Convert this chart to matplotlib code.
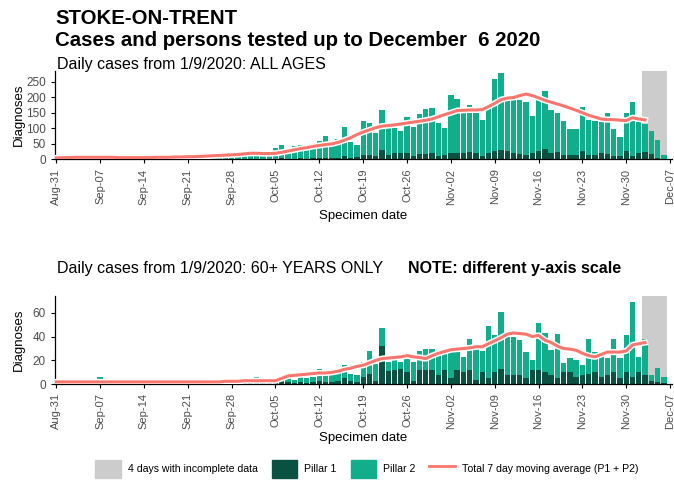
import numpy as np
import matplotlib
matplotlib.use('Agg')
import matplotlib.pyplot as plt
import matplotlib.dates as mdates
import matplotlib.patheffects as pe
from matplotlib.patches import Patch
from matplotlib.lines import Line2D

plt.rcParams['font.family'] = ['Liberation Sans', 'DejaVu Sans']

# one bar per specimen day, 31 Aug .. 6 Dec 2020
days = np.arange('2020-08-31', '2020-12-07', dtype='datetime64[D]')

all_total = [3, 14, 12, 5, 6, 8, 5, 6, 7, 8,
             5, 6, 7, 5, 6, 4, 7, 8, 6, 9,
             8, 7, 10, 12, 11, 13, 14, 12, 16, 18,
             20, 22, 18, 16, 15, 37, 45, 25, 42, 48,
             30, 35, 58, 75, 42, 65, 105, 57, 45, 123,
             116, 84, 158, 100, 100, 91, 137, 105, 147, 162,
             164, 116, 102, 207, 194, 148, 174, 148, 127, 164,
             258, 276, 190, 190, 190, 185, 140, 205, 220, 160,
             150, 125, 97, 97, 167, 128, 124, 121, 150, 98,
             73, 150, 185, 121, 113, 92, 62, 14]
all_p1 = [0, 1, 1, 0, 0, 1, 0, 0, 1, 0,
          0, 0, 1, 0, 0, 0, 1, 0, 0, 1,
          0, 1, 1, 0, 1, 1, 1, 0, 1, 2,
          2, 2, 1, 2, 1, 3, 4, 2, 3, 4,
          3, 4, 5, 6, 5, 6, 12, 5, 8, 14,
          16, 12, 32, 14, 20, 20, 20, 10, 18, 18,
          20, 10, 16, 20, 20, 22, 25, 20, 12, 20,
          28, 30, 27, 20, 17, 16, 20, 26, 33, 22,
          24, 16, 14, 16, 28, 16, 16, 20, 18, 12,
          10, 27, 12, 22, 24, 18, 5, 2]
all_ma = [5, 6, 6, 7, 7, 7, 7, 7, 7, 7,
          6, 6, 6, 6, 6, 6, 7, 7, 7, 8,
          8, 9, 9, 10, 11, 12, 13, 14, 15, 16,
          18, 20, 20, 19, 19, 20, 23, 27, 31, 35,
          38, 42, 45, 48, 50, 55, 62, 70, 80, 88,
          95, 102, 107, 109, 111, 114, 117, 120, 123, 126,
          130, 137, 144, 150, 157, 158, 159, 159, 160, 170,
          180, 192, 197, 199, 205, 210, 205, 198, 190, 184,
          178, 172, 165, 158, 150, 142, 136, 130, 128, 128,
          126, 125, 134, 130, 127]

old_total = [1, 1, 2, 0, 1, 1, 2, 6, 1, 1,
             2, 1, 1, 2, 1, 0, 2, 1, 1, 2,
             1, 2, 1, 2, 1, 2, 2, 1, 3, 2,
             3, 2, 6, 2, 3, 3, 7, 9, 4, 8,
             5, 6, 13, 12, 12, 13, 16, 9, 8, 19,
             28, 17, 47, 19, 20, 19, 22, 19, 28, 30,
             30, 27, 26, 30, 30, 23, 38, 34, 28, 49,
             41, 61, 40, 40, 37, 27, 20, 51, 43, 29,
             42, 18, 22, 20, 16, 38, 27, 27, 22, 38,
             22, 41, 69, 23, 38, 8, 14, 6]
old_p1 = [0, 0, 1, 0, 0, 0, 1, 1, 0, 0,
          1, 0, 0, 1, 0, 0, 1, 0, 0, 1,
          0, 1, 0, 1, 0, 1, 1, 0, 1, 1,
          1, 1, 1, 1, 1, 1, 2, 2, 1, 2,
          1, 2, 3, 2, 2, 3, 5, 3, 2, 6,
          9, 3, 32, 11, 12, 13, 10, 3, 12, 12,
          12, 8, 12, 5, 12, 10, 12, 4, 10, 5,
          10, 13, 8, 8, 8, 5, 12, 12, 10, 8,
          5, 10, 10, 6, 8, 9, 10, 6, 8, 10,
          5, 10, 6, 10, 8, 3, 2, 1]
old_ma = [2, 2, 2, 2, 2, 2, 2, 2, 2, 2,
          2, 2, 2, 2, 2, 2, 2, 2, 2, 2,
          2, 2, 2, 2, 2, 2, 2, 2.5, 2.5, 2.5,
          3, 3, 3, 3, 3, 3, 5, 7, 7.5, 8,
          8.5, 9, 9.5, 9.5, 10, 11, 12.5, 13.5, 15, 16,
          18, 20, 21.5, 22, 22.5, 23, 24, 23, 22.5, 21.5,
          24, 26, 27.5, 29, 29.5, 30, 30.5, 31.5, 31.5, 34,
          36.5, 39, 42, 43, 42.5, 42, 40, 41, 37, 35,
          32, 30, 29.5, 28.5, 26, 24, 23, 25, 27, 27,
          27, 28, 33, 34, 35]

tick_days = np.arange('2020-08-31', '2020-12-08', 7, dtype='datetime64[D]')

GREY = '#cccccc'
P1 = '#0b5141'
P2 = '#12ad8b'
RED = '#f8766d'


def draw_panel(ax, total, p1, ma, yticks, ymax):
    total = np.array(total, dtype=float)
    p1 = np.array(p1, dtype=float)
    x = days.astype(object)
    # last four days are incomplete
    ax.axvspan(mdates.date2num(days[-4]) - 0.5, mdates.date2num(days[-1]) + 0.5,
               color=GREY, lw=0, zorder=0)
    ax.bar(x, p1, width=0.85, color=P1, lw=0, zorder=2)
    ax.bar(x, total - p1, bottom=p1, width=0.85, color=P2, lw=0, zorder=2)
    ax.plot(x[:len(ma)], ma, color=RED, lw=2.2, zorder=3,
            path_effects=[pe.Stroke(linewidth=4.4, foreground='white'), pe.Normal()])

    ax.set_xlim(mdates.date2num(days[0]) - 0.2, mdates.date2num(days[0]) + 98.3)
    ax.set_ylim(0, ymax)
    ax.set_yticks(yticks)
    ax.set_xticks(tick_days.astype(object))
    ax.xaxis.set_major_formatter(mdates.DateFormatter('%b-%d'))
    ax.tick_params(axis='x', labelrotation=90, labelsize=8, colors='#4d4d4d', length=3)
    ax.tick_params(axis='y', labelsize=8.5, colors='#4d4d4d', length=3)
    ax.tick_params(color='black')
    for s in ['top', 'right']:
        ax.spines[s].set_visible(False)
    for s in ['left', 'bottom']:
        ax.spines[s].set_linewidth(0.9)
    ax.set_ylabel('Diagnoses', fontsize=9.5)
    ax.set_xlabel('Specimen date', fontsize=9.5)
    ax.yaxis.set_label_coords(-0.049, 0.5)


fig = plt.figure(figsize=(6.74, 4.82), dpi=100)
W, H = 674, 482

ax1 = fig.add_axes([55 / W, 1 - 159.5 / H, 617 / W, 88.5 / H])
draw_panel(ax1, all_total, all_p1, all_ma, [0, 50, 100, 150, 200, 250], 284)
ax1.xaxis.set_label_coords(0.5, -0.565)

ax2 = fig.add_axes([55 / W, 1 - 384.3 / H, 617 / W, 88.3 / H])
draw_panel(ax2, old_total, old_p1, old_ma, [0, 20, 40, 60], 74)
ax2.xaxis.set_label_coords(0.5, -0.545)

fig.text(55 / W, 1 - 18 / H, 'STOKE-ON-TRENT', fontsize=14.7, fontweight='bold', va='center')
fig.text(55 / W, 1 - 40 / H, 'Cases and persons tested up to December  6 2020',
         fontsize=14.7, fontweight='bold', va='center')
fig.text(57 / W, 1 - 64 / H, 'Daily cases from 1/9/2020: ALL AGES', fontsize=11.5, va='center')
fig.text(57 / W, 1 - 268 / H, 'Daily cases from 1/9/2020: 60+ YEARS ONLY', fontsize=11.5, va='center')
fig.text(408 / W, 1 - 268 / H, 'NOTE: different y-axis scale', fontsize=11.5,
         fontweight='bold', va='center')

handles = [Patch(color=GREY), Patch(color=P1), Patch(color=P2), Line2D([], [], color=RED, lw=2)]
labels = ['4 days with incomplete data', 'Pillar 1', 'Pillar 2', 'Total 7 day moving average (P1 + P2)']
fig.legend(handles, labels, loc='center', bbox_to_anchor=(367 / W, 1 - 469 / H), ncol=4,
           frameon=False, fontsize=7.6, handlelength=2.4, handleheight=2.2,
           columnspacing=1.3, handletextpad=0.7)

fig.savefig('out.png', dpi=100)
